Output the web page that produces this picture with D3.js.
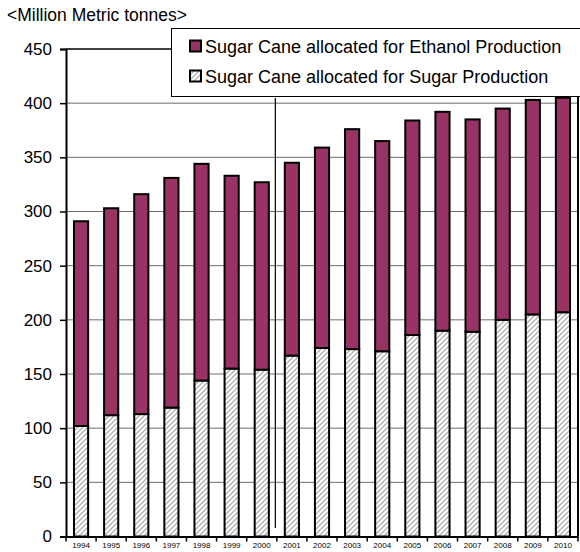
<!DOCTYPE html>
<html>
<head>
<meta charset="utf-8">
<script src="https://cdn.jsdelivr.net/npm/d3@7"></script>
<style>
  html, body { margin: 0; padding: 0; background: #fff; }
  svg { display: block; font-family: "Liberation Sans", Arial, sans-serif; }
</style>
</head>
<body>
<svg id="chart" width="580" height="552"></svg>
<script>
// Brazilian sugar cane use, million metric tonnes
const years = ["1994","1995","1996","1997","1998","1999","2000","2001","2002",
               "2003","2004","2005","2006","2007","2008","2009","2010"];
const sugarProduction   = [102,112,113,119,144,155,154,167,174,173,171,186,190,189,200,205,207];
const ethanolProduction = [189,191,203,212,200,178,173,178,185,203,194,198,202,196,195,198,198];
const yTicks = [0,50,100,150,200,250,300,350,400,450];
const seriesNames = ["Sugar Cane allocated for Ethanol Production",
                     "Sugar Cane allocated for Sugar Production"];

const svg = d3.select("#chart");
const plotLeft = 66, plotRight = 578, plotTop = 49, plotBottom = 536.5;

const defs = svg.append("defs");
const pat = defs.append("pattern")
  .attr("id", "hatch").attr("patternUnits", "userSpaceOnUse")
  .attr("width", 5).attr("height", 5);
pat.append("rect").attr("width", 5).attr("height", 5).attr("fill", "#fff");
pat.append("path").attr("d", "M-1,6 L6,-1 M-1,1 L1,-1 M4,6 L6,4")
  .attr("stroke", "#b4b4b4").attr("stroke-width", 1.5);

const x = d3.scaleBand().domain(years).range([plotLeft, plotRight]).paddingInner(0.53).paddingOuter(0.265);
const xTickScale = d3.scaleBand().domain(years).range([plotLeft, plotRight]);
const y = d3.scaleLinear().domain([0, 450]).range([plotBottom, plotTop]);

// horizontal gridlines
svg.append("g").selectAll("line").data(yTicks.filter(d => d > 0 && d < 450)).join("line")
  .attr("x1", plotLeft).attr("x2", plotRight)
  .attr("y1", d => y(d)).attr("y2", d => y(d))
  .attr("stroke", "#6e6e6e").attr("stroke-width", 1);

// plot frame
svg.append("line").attr("x1", plotLeft).attr("x2", plotRight).attr("y1", y(450)).attr("y2", y(450))
  .attr("stroke", "#000").attr("stroke-width", 1.5);
svg.append("line").attr("x1", plotRight).attr("x2", plotRight).attr("y1", y(450)).attr("y2", plotBottom)
  .attr("stroke", "#000").attr("stroke-width", 2);

// stacked bars
const stackData = years.map((yr, i) => ({ year: yr, sugar: sugarProduction[i], ethanol: ethanolProduction[i] }));
const stacked = d3.stack().keys(["sugar", "ethanol"])(stackData);
const fills = { sugar: "url(#hatch)", ethanol: "#993366" };

svg.append("g").selectAll("g").data(stacked).join("g")
  .attr("fill", d => fills[d.key])
  .selectAll("rect").data(d => d).join("rect")
  .attr("x", d => x(d.data.year))
  .attr("width", x.bandwidth())
  .attr("y", d => y(d[1]))
  .attr("height", d => y(d[0]) - y(d[1]))
  .attr("stroke", "#000").attr("stroke-width", 2);

// divider between historical and later years
const divX = xTickScale("2001");
svg.append("line").attr("x1", divX - 1.5).attr("x2", divX - 1.5)
  .attr("y1", 98).attr("y2", 528)
  .attr("stroke", "#000").attr("stroke-width", 1.2);

// y axis
const yAxis = svg.append("g").attr("transform", `translate(${plotLeft},0)`)
  .call(d3.axisLeft(y).tickValues(yTicks).tickSize(6).tickPadding(8));
yAxis.select(".domain").attr("stroke-width", 2);
yAxis.selectAll(".tick line").attr("stroke-width", 1.5);
yAxis.selectAll("text").attr("font-size", 17).attr("fill", "#000")
  .attr("font-family", "'Liberation Sans', Arial, sans-serif");

// x axis
const xAxis = svg.append("g").attr("transform", `translate(0,${plotBottom})`)
  .call(d3.axisBottom(xTickScale).tickSize(0).tickPadding(6));
xAxis.select(".domain").attr("stroke-width", 2);
xAxis.selectAll("text").attr("font-size", 8).attr("fill", "#000")
  .attr("font-family", "'Liberation Sans', Arial, sans-serif");
// boundary ticks between categories
svg.append("g").selectAll("line").data(years.concat(["end"])).join("line")
  .attr("x1", (d, i) => plotLeft + i * xTickScale.step())
  .attr("x2", (d, i) => plotLeft + i * xTickScale.step())
  .attr("y1", plotBottom).attr("y2", plotBottom + 5)
  .attr("stroke", "#000").attr("stroke-width", 1.5);

// unit label
svg.append("text").attr("x", 7).attr("y", 20.5).attr("font-size", 17.5).text("<Million Metric tonnes>");

// legend
const lg = svg.append("g");
lg.append("rect").attr("x", 171.5).attr("y", 28.5).attr("width", 420).attr("height", 68)
  .attr("fill", "#fff").attr("stroke", "#000").attr("stroke-width", 1);
const legendFills = ["#993366", "url(#hatch)"];
seriesNames.forEach((name, i) => {
  const cy = 46 + i * 30;
  lg.append("rect").attr("x", 190).attr("y", cy - 5.5).attr("width", 11).attr("height", 11)
    .attr("fill", legendFills[i]).attr("stroke", "#000").attr("stroke-width", 2);
  lg.append("text").attr("x", 205).attr("y", cy + 6.5).attr("font-size", 18).text(name);
});
</script>
</body>
</html>
